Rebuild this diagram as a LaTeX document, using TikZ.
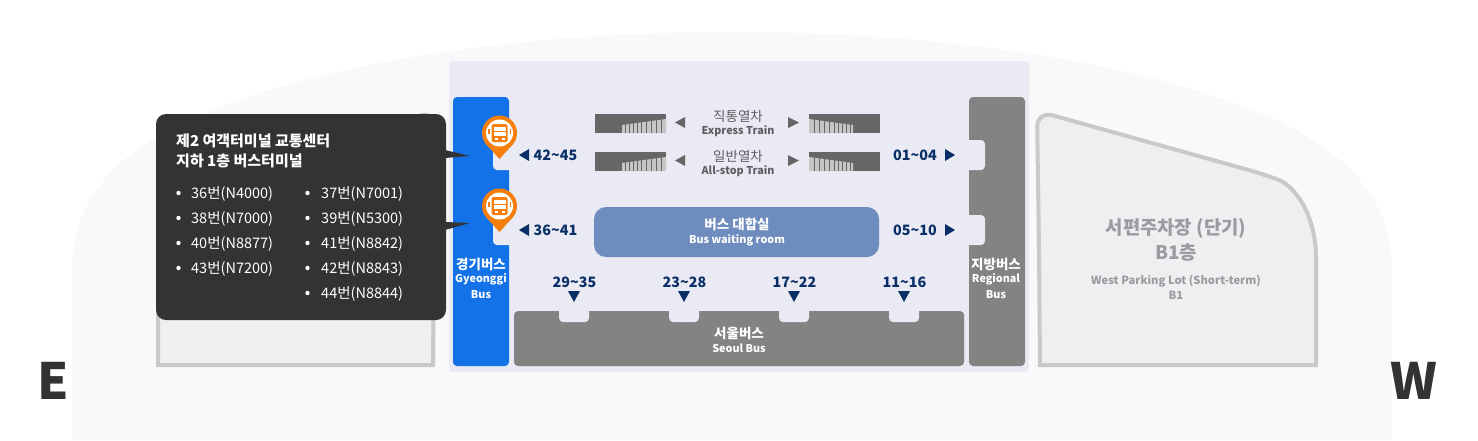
\documentclass[tikz,border=0pt]{standalone}
\usepackage{fontspec}
\setmainfont{Noto Sans CJK KR}
\usetikzlibrary{arrows.meta,positioning}
\definecolor{ground}{HTML}{F9F9FC}
\definecolor{panel}{HTML}{E9EAF3}
\definecolor{gyeonggi}{HTML}{1472E8}
\definecolor{busgray}{HTML}{838383}
\definecolor{lotfill}{HTML}{EFEFF2}
\definecolor{lotline}{HTML}{C9C9CC}
\definecolor{lottext}{HTML}{9C9CA0}
\definecolor{tipgray}{HTML}{333333}
\definecolor{navy}{HTML}{0A2F66}
\definecolor{pinorange}{HTML}{F57F0A}
\definecolor{waiting}{HTML}{6E8CBD}
\definecolor{traindark}{HTML}{666666}
\definecolor{trainlight}{HTML}{C6C6C6}
\definecolor{traintext}{HTML}{5F5F63}
\tikzset{
  busname/.style={font=\fontsize{13.5}{15}\selectfont\bfseries,white,inner sep=0pt},
  bussub/.style={font=\fontsize{10.8}{13}\selectfont\bfseries,white,inner sep=0pt},
  gate/.style={font=\fontsize{14.3}{16}\selectfont\bfseries,navy,inner sep=0pt},
  linetext/.style={font=\fontsize{14.5}{16}\selectfont,white,inner sep=0pt,anchor=west},
  titletext/.style={font=\fontsize{15}{17}\selectfont\bfseries,white,inner sep=0pt,anchor=west},
  lotname/.style={font=\fontsize{18.8}{22}\selectfont\bfseries,lottext,inner sep=0pt},
  lotsub/.style={font=\fontsize{11.2}{13}\selectfont\bfseries,lottext,inner sep=0pt},
  trainname/.style={font=\fontsize{13.5}{15}\selectfont,traintext,inner sep=0pt},
  trainsub/.style={font=\fontsize{10.8}{13}\selectfont\bfseries,traintext,inner sep=0pt},
  lotborder/.style={lotline,fill=lotfill,line width=4pt},
  compass/.style={font=\fontsize{50}{52}\selectfont\bfseries,tipgray,inner sep=0pt}
}
\begin{document}
\begin{tikzpicture}[x=1pt,y=-1pt]
  \useasboundingbox (0,0) rectangle (1478,440);
  % Ground
  \fill[white] (0,0) rectangle (1478,440);
  \fill[ground] (72,440) -- (72,270) .. controls (72,190) and (130,145) .. (200,115)
    .. controls (330,60) and (530,32) .. (732,32)
    .. controls (934,32) and (1134,60) .. (1264,115)
    .. controls (1334,145) and (1392,190) .. (1392,270) -- (1392,440) -- cycle;

  % Parking lots
  \draw[lotborder] (1039,250) [rounded corners=16pt] -- (1037,111) -- (1263,174) [sharp corners]
    .. controls (1295,186) and (1316,215) .. (1316,258) -- (1316,365) -- (1040,365) -- cycle;
  \draw[lotborder] (434,250) [rounded corners=16pt] -- (436,111) -- (211,174) [sharp corners]
    .. controls (179,186) and (158,215) .. (158,258) -- (158,365) -- (433,365) -- cycle;
  \node[lotname] (westname) at (1176,228) {서편주차장 (단기)};
  \node[lotname] (westfloor) at (1176,253) {B1층};
  \node[lotsub] (westsub) at (1176,281) {West Parking Lot (Short-term)};
  \node[lotsub] (westb) at (1176,295) {B1};

  % Terminal
  \fill[panel,rounded corners=4pt] (449,61) rectangle (1029,372);
  \fill[gyeonggi,rounded corners=4pt] (453,97) rectangle (509,366);
  \fill[busgray,rounded corners=4pt] (969,97) rectangle (1025,366);
  \fill[busgray,rounded corners=4pt] (514,311) rectangle (964,366);
  \foreach \y in {140,215} {
    \fill[panel,rounded corners=4pt] (510,\y) -- (493,\y) -- (493,\y+30) -- (510,\y+30);
    \fill[panel,rounded corners=4pt] (968,\y) -- (985,\y) -- (985,\y+30) -- (968,\y+30);
  }
  \foreach \x in {559,669,779,889}
    \fill[panel,rounded corners=4pt] (\x,310) -- (\x,322) -- (\x+30,322) -- (\x+30,310);

  % Trains
  \foreach \y in {114,152} {
    \fill[traindark] (595,\y) rectangle (666,\y+19);
    \fill[traindark] (809,\y) rectangle (880,\y+19);
    \fill[trainlight] (622,\y+11) -- (666,\y+5) -- (666,\y+19) -- (622,\y+19) -- cycle;
    \fill[trainlight] (809,\y+5) -- (853,\y+11) -- (853,\y+19) -- (809,\y+19) -- cycle;
    \foreach \x in {625,629,633,637,641,646,651,656,661}
      \draw[traindark,line width=1pt] (\x,\y+4) -- (\x,\y+19);
    \foreach \x in {814,819,824,829,834,838,842,846,850}
      \draw[traindark,line width=1pt] (\x,\y+4) -- (\x,\y+19);
    \fill[traindark] (685,\y+3) -- (685,\y+14) -- (675,\y+8.5) -- cycle;
    \fill[traindark] (788,\y+3) -- (788,\y+14) -- (799,\y+8.5) -- cycle;
  }
  \node[trainname] (express) at (738,116) {직통열차};
  \node[trainsub] (expresssub) at (738,131) {Express Train};
  \node[trainname] (allstop) at (738,156) {일반열차};
  \node[trainsub] (allstopsub) at (738,171) {All-stop Train};

  % Waiting room
  \fill[waiting,rounded corners=12pt] (594,207) rectangle (879,257);
  \node[busname] (room) at (737,224.5) {버스 대합실};
  \node[bussub] (roomsub) at (737,240) {Bus waiting room};

  % Gates
  \foreach \name/\y/\txt in {ga/155/42\textasciitilde45,gb/230/36\textasciitilde41} {
    \fill[navy] (529,\y-6) -- (529,\y+6) -- (519,\y) -- cycle;
    \node[gate] (\name) at (555.5,\y) {\txt};
  }
  \foreach \name/\y/\txt in {gc/155/01\textasciitilde04,gd/230/05\textasciitilde10} {
    \fill[navy] (945,\y-6) -- (945,\y+6) -- (955,\y) -- cycle;
    \node[gate] (\name) at (915,\y) {\txt};
  }
  \foreach \name/\x/\txt in {ge/574/29\textasciitilde35,gf/684/23\textasciitilde28,gg/794/17\textasciitilde22,gh/904/11\textasciitilde16} {
    \fill[navy] (\x-6,291) -- (\x+6,291) -- (\x,302) -- cycle;
    \node[gate] (\name) at (\x+0.5,282) {\txt};
  }

  % Bus names
  \node[busname] (gyeonggi) at (481,264) {경기버스};
  \node[bussub] (gyeonggisub) at (481,279.5) {Gyeonggi};
  \node[bussub] (gyeonggibus) at (481,294.5) {Bus};
  \node[busname] (regional) at (996,264) {지방버스};
  \node[bussub] (regionalsub) at (996,279.5) {Regional};
  \node[bussub] (regionalbus) at (996,294.5) {Bus};
  \node[busname] (seoul) at (739,333) {서울버스};
  \node[bussub] (seoulsub) at (739,348) {Seoul Bus};

  % Tooltip
  \fill[tipgray,rounded corners=10pt] (156,114) rectangle (446,320);
  \fill[tipgray] (445,150) -- (470,156) -- (445,158) -- cycle;
  \fill[tipgray] (445,222) -- (470,223) -- (445,230) -- cycle;
  \node[titletext] (title) at (176,141) {제2 여객터미널 교통센터};
  \node[titletext] (titleb) at (176,160.5) {지하 1층 버스터미널};
  \foreach \name/\y/\txt in {la/193/36번(N4000),lb/218/38번(N7000),lc/243/40번(N8877),ld/268/43번(N7200)} {
    \fill[white] (178.5,\y) circle (2.2);
    \node[linetext] (\name) at (191,\y+1) {\txt};
  }
  \foreach \name/\y/\txt in {ra/193/37번(N7001),rb/218/39번(N5300),rc/243/41번(N8842),rd/268/42번(N8843),re/293/44번(N8844)} {
    \fill[white] (307.5,\y) circle (2.2);
    \node[linetext] (\name) at (321,\y+1) {\txt};
  }

  % Pins
  \foreach \y in {133,206} {
    \fill[pinorange] (486,\y+11) -- (499.5,\y+26) -- (513,\y+11) -- cycle;
    \fill[pinorange] (499.5,\y) circle (17.5);
    \fill[white] (499.5,\y) circle (13.5);
    \fill[pinorange,rounded corners=2pt] (491.5,\y-9) rectangle (507.5,\y+9);
    \fill[white] (493.5,\y-6.5) rectangle (505.5,\y+2.5);
    \fill[pinorange] (493.5,\y-2.5) rectangle (505.5,\y-1.5);
    \fill[white] (494.5,\y+4.5) rectangle (497.5,\y+6.5);
    \fill[white] (501.5,\y+4.5) rectangle (504.5,\y+6.5);
    \fill[pinorange] (488,\y-4) rectangle (489.5,\y+1);
    \fill[pinorange] (509.5,\y-4) rectangle (511,\y+1);
  }

  % Compass
  \node[compass] (east) at (53,381) {E};
  \node[compass] (west) at (1414,381) {W};
\end{tikzpicture}
\end{document}
